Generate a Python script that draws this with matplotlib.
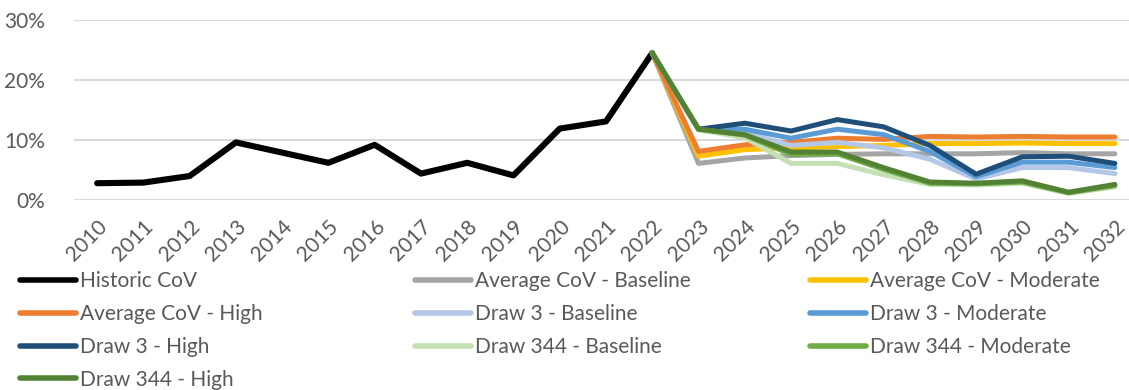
import numpy as np
import matplotlib
matplotlib.use("Agg")
import matplotlib.pyplot as plt
from matplotlib.lines import Line2D

years = [str(y) for y in range(2010, 2033)]
nan = np.nan

historic = [2.8, 2.9, 4.0, 9.6, 7.9, 6.2, 9.2, 4.4, 6.2, 4.1, 11.9, 13.1, 24.5]
hist_full = historic + [nan] * 10

pre = [nan] * 12
peak = [24.5]
avg_base = pre + peak + [6.1, 7.0, 7.4, 7.6, 7.7, 7.7, 7.7, 7.9, 7.7, 7.7]
avg_mod = pre + peak + [7.3, 8.4, 8.7, 8.9, 9.1, 9.4, 9.4, 9.5, 9.4, 9.4]
avg_high = pre + peak + [8.1, 9.2, 9.6, 10.3, 10.1, 10.6, 10.5, 10.6, 10.5, 10.5]
d3_base = pre + peak + [11.7, 11.2, 9.1, 9.6, 8.7, 6.8, 3.5, 5.4, 5.4, 4.4]
d3_mod = pre + peak + [11.8, 11.8, 10.3, 11.8, 10.9, 8.1, 3.9, 6.3, 6.3, 5.4]
d3_high = pre + peak + [11.8, 12.8, 11.5, 13.4, 12.2, 9.1, 4.3, 7.2, 7.3, 6.1]
d344_base = pre + peak + [11.7, 10.4, 6.1, 6.1, 4.2, 2.6, 2.5, 2.8, 1.1, 2.2]
d344_mod = pre + peak + [11.8, 10.8, 7.6, 7.7, 5.1, 2.8, 2.7, 3.0, 1.2, 2.4]
d344_high = pre + peak + [11.8, 10.9, 8.0, 8.0, 5.4, 3.0, 2.8, 3.2, 1.3, 2.6]

labels = ["Historic CoV", "Average CoV - Baseline", "Average CoV - Moderate",
          "Average CoV - High", "Draw 3 - Baseline", "Draw 3 - Moderate",
          "Draw 3 - High", "Draw 344 - Baseline", "Draw 344 - Moderate",
          "Draw 344 - High"]
series = [hist_full, avg_base, avg_mod, avg_high, d3_base, d3_mod, d3_high,
          d344_base, d344_mod, d344_high]
colors = ["#000000", "#A5A5A5", "#FFC000", "#ED7D31", "#B4C7E7", "#5B9BD5",
          "#1F4E79", "#C5E0B4", "#70AD47", "#548235"]
widths = [4.4] + [3.6] * 9

plt.rcParams['font.family'] = ['Lato', 'DejaVu Sans']
text_color = "#595959"

fig = plt.figure(figsize=(11.29, 3.90), dpi=100)
W, H = 1129, 390
left_px, right_px = 74, 1138
top_px, bottom_px = 20, 200
ax = fig.add_axes([left_px / W, 1 - bottom_px / H,
                   (right_px - left_px) / W, (bottom_px - top_px) / H])

x = np.arange(len(years))
for s, c, lw, lab in zip(series, colors, widths, labels):
    ax.plot(x, np.array(s) / 100.0, color=c, lw=lw, solid_capstyle='round',
            solid_joinstyle='round', label=lab, clip_on=False)

ax.set_xlim(-0.5, len(years) - 0.5)
ax.set_ylim(0, 0.30)
ax.set_yticks([0, 0.1, 0.2, 0.3])
ax.set_yticklabels(["0%", "10%", "20%", "30%"])
ax.set_xticks(x)
ax.set_xticklabels(years, rotation=45, ha='right', va='top', rotation_mode='anchor')
ax.tick_params(axis='both', length=0, colors=text_color, labelsize=15)
ax.tick_params(axis='y', pad=21)
ax.tick_params(axis='x', pad=12)
for sp in ax.spines.values():
    sp.set_visible(False)
ax.grid(axis='y', color='#D9D9D9', lw=1.5)
ax.set_axisbelow(True)

cols = [[0, 3, 6, 9], [1, 4, 7], [2, 5, 8]]
col_x = [20, 415, 810]
for xi, idx in zip(col_x, cols):
    hs = [Line2D([0], [0], color=colors[i], lw=4.0,
                 solid_capstyle='round') for i in idx]
    leg = fig.legend(hs, [labels[i] for i in idx], loc='upper left',
                     bbox_to_anchor=(xi / W, 1 - 271 / H), frameon=False,
                     fontsize=15, handlelength=2.7, handletextpad=0.2,
                     labelspacing=0.62, borderaxespad=0, borderpad=0)
    for t in leg.get_texts():
        t.set_color(text_color)

fig.savefig("out.png", dpi=100)
